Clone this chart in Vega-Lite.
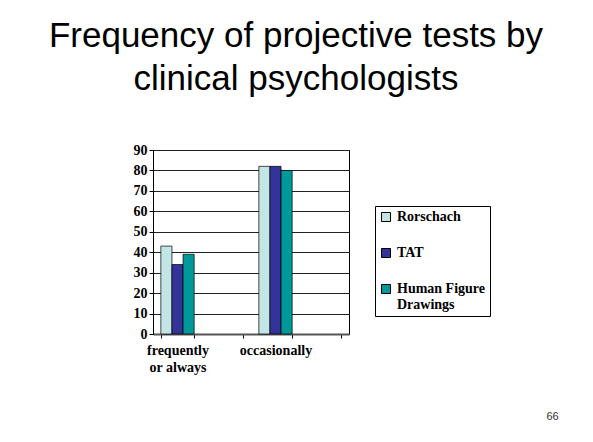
{
  "$schema": "https://vega.github.io/schema/vega-lite/v6.json",
  "width": 196,
  "height": 184,
  "autosize": {"type": "none"},
  "padding": {"left": 153, "top": 150, "right": 244, "bottom": 108},
  "background": "white",
  "title": {
    "text": ["Frequency of projective tests by", "clinical psychologists"],
    "font": "Liberation Sans",
    "fontSize": 35,
    "fontWeight": "normal",
    "lineHeight": 43,
    "color": "black",
    "anchor": "middle",
    "frame": "group",
    "dx": 45,
    "offset": 46
  },
  "data": {
    "values": [
      {"category": "frequently or always", "test": "Rorschach", "value": 43},
      {"category": "frequently or always", "test": "TAT", "value": 34},
      {"category": "frequently or always", "test": "Human Figure Drawings", "value": 39},
      {"category": "occasionally", "test": "Rorschach", "value": 82},
      {"category": "occasionally", "test": "TAT", "value": 82},
      {"category": "occasionally", "test": "Human Figure Drawings", "value": 80}
    ]
  },
  "mark": {"type": "bar", "stroke": "black", "strokeWidth": 0.7},
  "encoding": {
    "x": {
      "field": "category",
      "type": "nominal",
      "sort": null,
      "scale": {"domain": ["frequently or always", " ", "occasionally", "  "], "paddingInner": 0.32, "paddingOuter": 0.16},
      "axis": {
        "title": "66",
        "titleX": 399,
        "titleY": 85,
        "titleFont": "Liberation Sans",
        "titleFontSize": 11,
        "titleFontWeight": "normal",
        "titleColor": "#333333",
        "titleAlign": "center",
        "titleBaseline": "alphabetic",
        "labelExpr": "datum.value == 'frequently or always' ? ['frequently', 'or always'] : datum.value",
        "labelAngle": 0,
        "labelFont": "Liberation Serif",
        "labelFontWeight": "bold",
        "labelFontSize": 14,
        "labelLineHeight": 17,
        "labelColor": "black",
        "labelPadding": 5,
        "labelBaseline": "top",
        "tickBand": "extent",
        "tickSize": 4,
        "tickColor": "black",
        "domainColor": "#555555",
        "domainWidth": 2,
        "grid": false
      }
    },
    "xOffset": {
      "field": "test",
      "type": "nominal",
      "sort": ["Rorschach", "TAT", "Human Figure Drawings"],
      "scale": {"paddingInner": 0, "paddingOuter": 0}
    },
    "y": {
      "field": "value",
      "type": "quantitative",
      "scale": {"domain": [0, 90], "nice": false},
      "axis": {
        "title": null,
        "values": [0, 10, 20, 30, 40, 50, 60, 70, 80, 90],
        "labelFont": "Liberation Serif",
        "labelFontWeight": "bold",
        "labelFontSize": 14,
        "labelColor": "black",
        "labelPadding": 2,
        "tickSize": 4,
        "tickColor": "black",
        "domainColor": "black",
        "gridColor": "#222222",
        "gridWidth": 1
      }
    },
    "color": {
      "field": "test",
      "type": "nominal",
      "sort": ["Rorschach", "TAT", "Human Figure Drawings"],
      "scale": {
        "domain": ["Rorschach", "TAT", "Human Figure Drawings"],
        "range": ["#C2E6E6", "#333399", "#009999"]
      },
      "legend": {
        "title": null,
        "orient": "none",
        "legendX": 222,
        "legendY": 56,
        "strokeColor": "black",
        "fillColor": "white",
        "padding": 4,
        "symbolType": "square",
        "symbolSize": 81,
        "symbolStrokeColor": "black",
        "symbolStrokeWidth": 1,
        "labelFont": "Liberation Serif",
        "labelFontWeight": "bold",
        "labelFontSize": 14,
        "labelLineHeight": 16,
        "labelColor": "black",
        "labelOffset": 4,
        "labelLimit": 200,
        "rowPadding": 22,
        "labelExpr": "datum.label == 'Human Figure Drawings' ? ['Human Figure', 'Drawings'] : datum.label"
      }
    }
  },
  "config": {
    "view": {"stroke": "black", "strokeWidth": 1}
  }
}
